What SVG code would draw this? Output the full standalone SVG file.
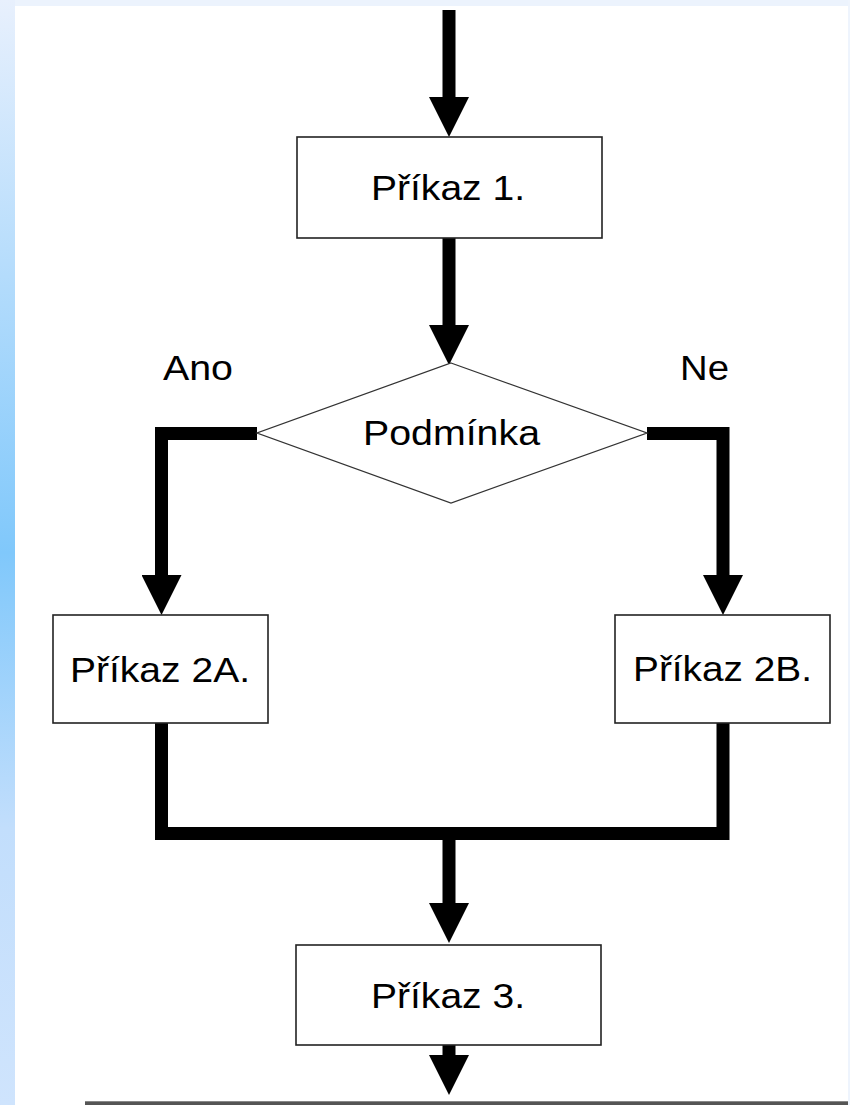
<svg xmlns="http://www.w3.org/2000/svg" width="850" height="1105" viewBox="0 0 850 1105">
  <style>
    .box { fill: #ffffff; stroke: #222222; stroke-width: 1.6; }
    .dia { fill: #ffffff; stroke: #333333; stroke-width: 1.3; }
    .lbl { font-family: "Liberation Sans", Arial, sans-serif; font-size: 35px; fill: #000000; }
    .mid { text-anchor: middle; }
    .con { fill: none; stroke: #000000; stroke-width: 13; stroke-linejoin: miter; stroke-linecap: butt; }
  </style>
  <defs>
    <linearGradient id="side" x1="0" y1="0" x2="0" y2="1">
      <stop offset="0" stop-color="#e8f0fd"/>
      <stop offset="0.5" stop-color="#80c8fb"/>
      <stop offset="0.75" stop-color="#c2defc"/>
      <stop offset="1" stop-color="#cfe4fd"/>
    </linearGradient>
    <marker id="head" markerUnits="userSpaceOnUse" markerWidth="40" markerHeight="40" viewBox="0 0 40 40" refX="0" refY="20" orient="auto">
      <path d="M0,0 L40,20 L0,40 Z" fill="#000000"/>
    </marker>
  </defs>

  <!-- background -->
  <rect x="0" y="0" width="850" height="1105" fill="#ffffff"/>
  <rect x="0" y="0" width="850" height="6" fill="#ecf3fd"/>
  <rect x="0" y="0" width="15" height="1105" fill="url(#side)"/>
  <rect x="848" y="0" width="2" height="1105" fill="#eef4fd"/>
  <rect x="85" y="1101" width="763" height="4" fill="#555555"/>
  <rect x="85" y="1101" width="763" height="1" fill="#888888"/>

  <!-- connectors -->
  <g id="connectors">
    <path class="con" d="M449,10 V97" marker-end="url(#head)"/>
    <path class="con" d="M449,238 V325" marker-end="url(#head)"/>
    <path class="con" d="M257,433.5 H161.5 V575" marker-end="url(#head)"/>
    <path class="con" d="M647,433.5 H723 V575" marker-end="url(#head)"/>
    <path class="con" d="M161.5,723 V833.5 H723 V723"/>
    <path class="con" d="M449,833.5 V903" marker-end="url(#head)"/>
    <path class="con" d="M449,1045 V1055" marker-end="url(#head)"/>
  </g>

  <!-- nodes -->
  <g id="prikaz1">
    <rect class="box" x="297" y="137" width="305" height="101"/>
    <text class="lbl" x="371" y="200" textLength="154" lengthAdjust="spacingAndGlyphs">Příkaz 1.</text>
  </g>

  <g id="podminka">
    <polygon class="dia" points="451,363 647,433 451,503 257,433"/>
    <text class="lbl" x="363" y="445" textLength="177" lengthAdjust="spacingAndGlyphs">Podmínka</text>
  </g>

  <g id="label-ano">
    <text class="lbl" x="163" y="380" textLength="70" lengthAdjust="spacingAndGlyphs">Ano</text>
  </g>
  <g id="label-ne">
    <text class="lbl" x="680" y="380" textLength="49" lengthAdjust="spacingAndGlyphs">Ne</text>
  </g>

  <g id="prikaz2a">
    <rect class="box" x="53" y="615" width="215" height="108"/>
    <text class="lbl" x="70" y="682" textLength="180" lengthAdjust="spacingAndGlyphs">Příkaz 2A.</text>
  </g>

  <g id="prikaz2b">
    <rect class="box" x="615" y="615" width="215" height="108"/>
    <text class="lbl" x="633" y="681" textLength="179" lengthAdjust="spacingAndGlyphs">Příkaz 2B.</text>
  </g>

  <g id="prikaz3">
    <rect class="box" x="296" y="945" width="305" height="100"/>
    <text class="lbl" x="371" y="1008" textLength="154" lengthAdjust="spacingAndGlyphs">Příkaz 3.</text>
  </g>
</svg>
